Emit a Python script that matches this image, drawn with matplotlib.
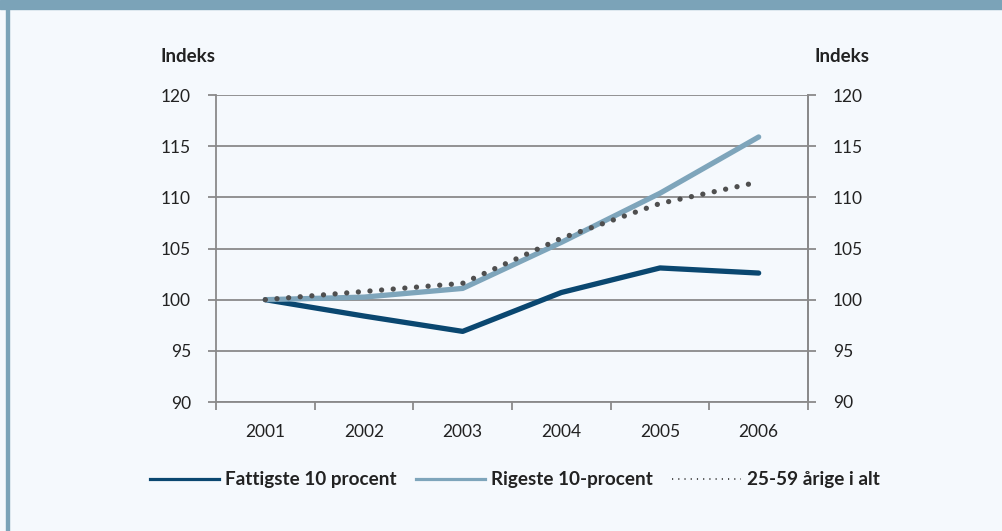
import matplotlib.pyplot as plt
from matplotlib.lines import Line2D
from matplotlib.patches import Rectangle

years = ["2001", "2002", "2003", "2004", "2005", "2006"]
fattigste = [100.0, 98.4, 96.9, 100.7, 103.1, 102.6]
rigeste = [100.0, 100.25, 101.1, 105.6, 110.4, 115.9]
alle = [100.0, 100.8, 101.6, 106.0, 109.4, 111.5]
y_ticks = [90, 95, 100, 105, 110, 115, 120]
labels = ["Fattigste 10 procent", "Rigeste 10-procent", "25-59 årige i alt"]

bg = "#F5F9FD"
frame_col = "#7BA3B8"
dark_blue = "#0A4770"
light_blue = "#7EA5BB"
dot_col = "#4F4F4F"
grid_col = "#8A8A8A"
txt = "#222222"

plt.rcParams["font.family"] = ["Lato", "DejaVu Sans"]

fig = plt.figure(figsize=(10.02, 5.31), dpi=100, facecolor=bg)
fig.patches.append(Rectangle((0, 1 - 9 / 531), 1, 9 / 531, transform=fig.transFigure,
                             color=frame_col, zorder=0))
fig.patches.append(Rectangle((6 / 1002, 0), 3 / 1002, 1, transform=fig.transFigure,
                             color=frame_col, zorder=0))

ax = fig.add_axes([216 / 1002, 1 - 402 / 531, (808 - 216) / 1002, (402 - 95) / 531])
ax.set_facecolor(bg)

x = [i + 0.5 for i in range(len(years))]
ax.plot(x, fattigste, color=dark_blue, lw=3.8, solid_capstyle="round", zorder=3)
ax.plot(x, rigeste, color=light_blue, lw=3.8, solid_capstyle="round", zorder=3)
ax.plot(x, alle, color=dot_col, lw=3.8, linestyle=(0, (0.01, 2.2)),
        dash_capstyle="round", zorder=4)

ax.set_xlim(0, len(years))
ax.set_ylim(90, 120)
ax.set_yticks(y_ticks)
ax.set_xticks(range(len(years) + 1))
ax.set_xticklabels([])
ax.set_xticks(x, minor=True)
ax.set_xticklabels(years, minor=True)
ax.tick_params(axis="x", which="minor", length=0, pad=16, labelsize=12.5, labelcolor=txt)
ax.tick_params(axis="x", which="major", length=6, width=1.3, color=grid_col)
ax.tick_params(axis="y", length=6, width=1.3, color=grid_col, pad=12,
               labelsize=12.5, labelcolor=txt)
ax.grid(axis="y", color=grid_col, lw=1.3, zorder=1)
ax.set_axisbelow(True)

ax.spines["top"].set_visible(False)
for side in ["left", "right", "bottom"]:
    ax.spines[side].set_color(grid_col)
    ax.spines[side].set_linewidth(1.3)

ax2 = ax.twinx()
ax2.set_ylim(90, 120)
ax2.set_yticks(y_ticks)
ax2.tick_params(axis="y", length=6, width=1.3, color=grid_col, pad=12,
                labelsize=12.5, labelcolor=txt)
for side in ["top", "left", "bottom"]:
    ax2.spines[side].set_visible(False)
ax2.spines["right"].set_color(grid_col)
ax2.spines["right"].set_linewidth(1.3)

fig.text(188 / 1002, 1 - 56 / 531, "Indeks", ha="center", va="center",
         fontsize=13.5, fontweight="bold", color=txt)
fig.text(842 / 1002, 1 - 56 / 531, "Indeks", ha="center", va="center",
         fontsize=13.5, fontweight="bold", color=txt)

handles = [
    Line2D([], [], color=dark_blue, lw=2.3),
    Line2D([], [], color=light_blue, lw=2.3),
    Line2D([], [], color=dot_col, lw=1.4, linestyle=(0, (0.6, 2.6))),
]
leg = fig.legend(handles, labels, loc="center", bbox_to_anchor=(515 / 1002, 1 - 480 / 531),
                 ncol=3, frameon=False, handlelength=3.65, handletextpad=0.33,
                 columnspacing=1.0, prop={"size": 13.6, "weight": "bold"})
for t in leg.get_texts():
    t.set_color(txt)

fig.savefig("out.png", dpi=100, facecolor=bg)
